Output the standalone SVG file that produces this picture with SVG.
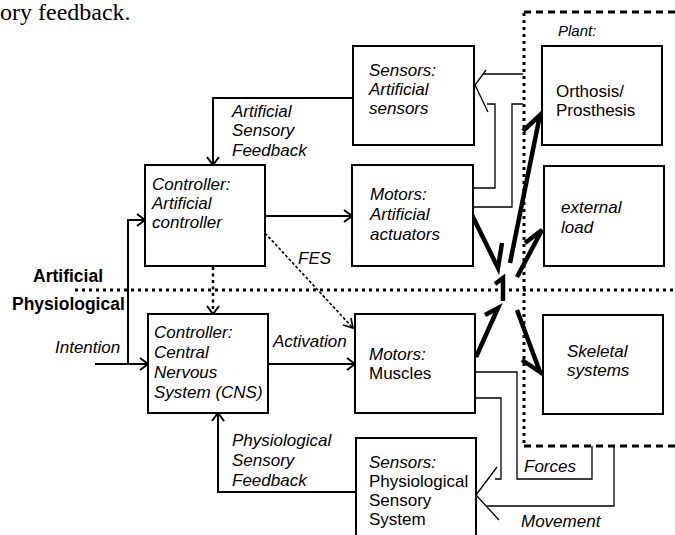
<svg xmlns="http://www.w3.org/2000/svg" width="675" height="535" viewBox="0 0 675 535">
<style>
.box{fill:#fff;stroke:#000;stroke-width:2}
.t{font-family:"Liberation Sans",Arial,sans-serif;font-size:17px;fill:#000}
.i{font-style:italic}
.b{font-weight:bold}
.c{fill:none;stroke:#000;stroke-width:2}
.thin{fill:none;stroke:#000;stroke-width:1.3}
.thick{fill:none;stroke:#000;stroke-width:4.5;stroke-linejoin:miter}
.dot{fill:none;stroke:#000;stroke-width:3;stroke-dasharray:3 4}
.dash{fill:none;stroke:#000;stroke-width:3;stroke-dasharray:7 5}
</style>
<rect width="675" height="535" fill="#fff"/>
<text x="0" y="20" style="font-family:'Liberation Serif','Times New Roman',serif;font-size:24px">ory feedback.</text>

<g id="regions">
<path class="dot" d="M75,290 H675"/>
<path class="dot" d="M524,13 V446"/>
<path class="dash" d="M524,12 H675"/>
<path class="dash" d="M524,446 H675"/>
<text class="t i" x="558" y="36" style="font-size:15px">Plant:</text>
<text class="t b" x="33" y="282" style="font-size:17.5px">Artificial</text>
<text class="t b" x="12" y="310" style="font-size:17.5px">Physiological</text>
</g>

<g id="connectors">
<path class="c" d="M353,98 H213 V164"/>
<path class="c" d="M207,157 L213,165 L219,157"/>
<path class="c" d="M265,216 H351"/>
<path class="c" d="M344,210 L352,216 L344,222"/>
<path class="c" d="M95,364 H147"/>
<path class="c" d="M140,358 L148,364 L140,370"/>
<path class="c" d="M128,364 V220 H144"/>
<path class="c" d="M137,214 L145,220 L137,226"/>
<path class="c" d="M268,364 H354"/>
<path class="c" d="M347,358 L355,364 L347,370"/>
<path class="dot" d="M213,267 V312" style="stroke-width:2.5;stroke-dasharray:3 3.5"/>
<path class="c" d="M207,306 L213,314 L219,306"/>
<path fill="none" stroke="#000" stroke-width="1.6" stroke-dasharray="3 2" d="M265,233 L352,327"/>
<path class="c" style="stroke-width:1.6" d="M343,325 L353,328 L351,318"/>
<path class="c" d="M356,492 H218 V414"/>
<path class="c" d="M212,421 L218,413 L224,421"/>
<path class="thin" d="M483,74 H523"/>
<path class="thin" d="M486,70 L475,85 L488,112"/>
<path class="thin" d="M467,188 H495 V104 H487"/>
<path class="thin" d="M473,207 H512 V104 H523"/>
<path class="thin" d="M475,372 H517 V479 H592 V446"/>
<path class="thin" d="M475,398 H501 V479 H495"/>
<path class="thin" d="M497,467 L476,495 L499,520"/>
<path class="thin" d="M487,506 H614 V446"/>
<path class="thick" d="M472,215 L498,268 L502,243"/>
<path class="thick" d="M510,263 L540,115 L523,131"/>
<path class="thick" d="M517,277 L542,230 L525,243"/>
<path class="thick" d="M503,301 V278 L495,284"/>
<path class="thick" d="M476,357 L498,308 L485,315"/>
<path class="thick" d="M517,310 L540,372 L522,360"/>
<text class="t i" x="232" y="117">Artificial</text>
<text class="t i" x="232" y="136">Sensory</text>
<text class="t i" x="232" y="156">Feedback</text>
<text class="t i" x="55" y="353">Intention</text>
<text class="t i" x="298" y="264">FES</text>
<text class="t i" x="273" y="347">Activation</text>
<text class="t i" x="232" y="446">Physiological</text>
<text class="t i" x="232" y="466">Sensory</text>
<text class="t i" x="232" y="486">Feedback</text>
<text class="t i" x="524" y="472">Forces</text>
<text class="t i" x="521" y="527">Movement</text>
</g>

<g id="sensors-artificial">
<rect class="box" x="353" y="46" width="121" height="99"/>
<text class="t i" x="369" y="76">Sensors:</text>
<text class="t i" x="369" y="95">Artificial</text>
<text class="t i" x="369" y="114">sensors</text>
</g>
<g id="orthosis">
<rect class="box" x="542" y="46" width="120" height="99"/>
<text class="t" x="556" y="97">Orthosis/</text>
<text class="t" x="556" y="116">Prosthesis</text>
</g>
<g id="controller-artificial">
<rect class="box" x="145" y="165" width="120" height="101"/>
<text class="t i" x="152" y="190">Controller:</text>
<text class="t i" x="152" y="209">Artificial</text>
<text class="t i" x="152" y="228">controller</text>
</g>
<g id="motors-artificial">
<rect class="box" x="352" y="165" width="121" height="101"/>
<text class="t i" x="370" y="200">Motors:</text>
<text class="t i" x="370" y="220">Artificial</text>
<text class="t i" x="370" y="240">actuators</text>
</g>
<g id="external-load">
<rect class="box" x="544" y="166" width="120" height="100"/>
<text class="t i" x="561" y="213">external</text>
<text class="t i" x="561" y="233">load</text>
</g>
<g id="controller-cns">
<rect class="box" x="148" y="314" width="120" height="99"/>
<text class="t i" x="154" y="338">Controller:</text>
<text class="t i" x="154" y="358">Central</text>
<text class="t i" x="154" y="378">Nervous</text>
<text class="t i" x="154" y="398">System (CNS)</text>
</g>
<g id="motors-muscles">
<rect class="box" x="355" y="314" width="120" height="99"/>
<text class="t i" x="369" y="360">Motors:</text>
<text class="t" x="369" y="379">Muscles</text>
</g>
<g id="skeletal">
<rect class="box" x="543" y="315" width="120" height="99"/>
<text class="t i" x="567" y="357">Skeletal</text>
<text class="t i" x="567" y="376">systems</text>
</g>
<g id="sensors-physiological">
<rect class="box" x="356" y="438" width="120" height="110"/>
<text class="t i" x="369" y="468">Sensors:</text>
<text class="t" x="369" y="487">Physiological</text>
<text class="t" x="369" y="506">Sensory</text>
<text class="t" x="369" y="525">System</text>
</g>
</svg>
